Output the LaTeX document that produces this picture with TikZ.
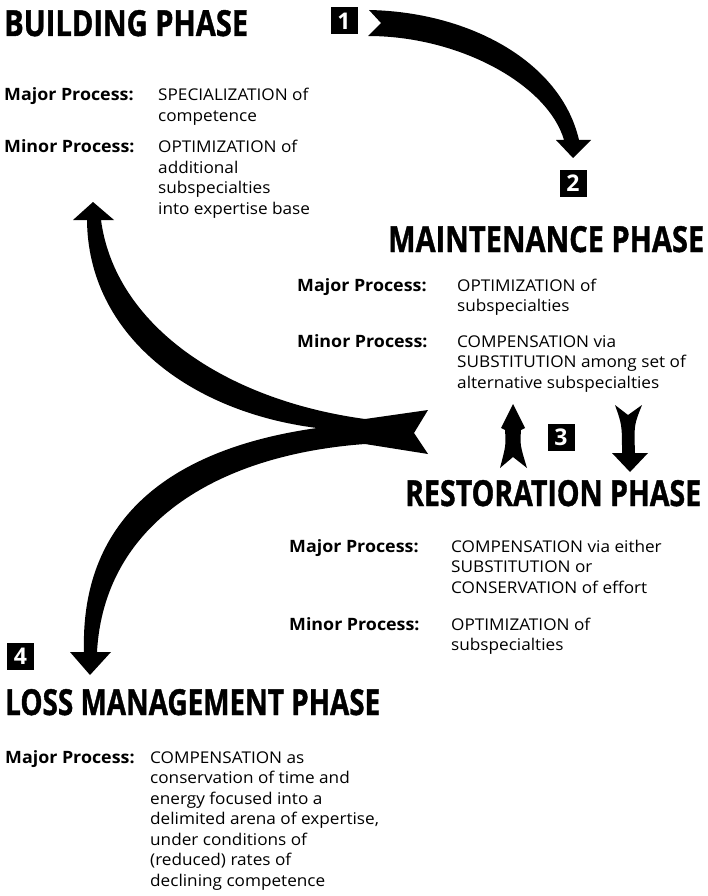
\documentclass[tikz,border=0pt]{standalone}
\usepackage{fontspec}
\usepackage{graphicx}
\setmainfont{Open Sans}
\newfontfamily\labelfont{Open Sans}[FakeStretch=1.05]
\newfontfamily\bodyfont{Open Sans}[FakeStretch=1.06]
\newfontfamily\headfont{Open Sans}[FakeBold=1.2]
\newcommand{\txtlines}[1]{\parbox[t]{300pt}{\raggedright #1}}
\begin{document}
\begin{tikzpicture}[x=1pt,y=-1pt,
  heading/.style={anchor=base west, inner sep=0pt},
  proclabel/.style={anchor=base west, inner sep=0pt, font=\labelfont\bfseries\fontsize{17}{20.5}\selectfont},
  proctext/.style={anchor=base west, inner sep=0pt, font=\bodyfont\fontsize{16.2}{20.5}\selectfont},
  numbox/.style={fill=black, text=white, minimum width=27pt, minimum height=27pt, inner sep=0pt, font=\bfseries\fontsize{23}{23}\selectfont},
  shapearrow/.style={fill=black}]

\fill[white] (0,0) rectangle (708,896);
\useasboundingbox (0,0) rectangle (708,896);

% phase headings
\node[heading] (build) at (4,36) {\resizebox{244pt}{26pt}{\headfont\bfseries BUILDING PHASE}};
\node[heading] (maint) at (388,252) {\resizebox{316pt}{26pt}{\headfont\bfseries MAINTENANCE PHASE}};
\node[heading] (resto) at (405,506) {\resizebox{296pt}{26pt}{\headfont\bfseries RESTORATION PHASE}};
\node[heading] (loss) at (5,715) {\resizebox{375pt}{26pt}{\headfont\bfseries LOSS MANAGEMENT PHASE}};

% building phase processes
\node[proclabel] (bmajl) at (4,101) {Major Process:};
\node[proctext] (bmajt) at (158,101) {\txtlines{SPECIALIZATION of\\competence}};
\node[proclabel] (bminl) at (4,153) {Minor Process:};
\node[proctext] (bmint) at (158,153) {\txtlines{OPTIMIZATION of\\additional\\subspecialties\\into expertise base}};

% maintenance phase processes
\node[proclabel] (mmajl) at (297,291) {Major Process:};
\node[proctext] (mmajt) at (457,291) {\txtlines{OPTIMIZATION of\\subspecialties}};
\node[proclabel] (mminl) at (297,347) {Minor Process:};
\node[proctext] (mmint) at (457,347) {\txtlines{COMPENSATION via\\SUBSTITUTION among set of\\alternative subspecialties}};

% restoration phase processes
\node[proclabel] (rmajl) at (289,552) {Major Process:};
\node[proctext] (rmajt) at (451,552) {\txtlines{COMPENSATION via either\\SUBSTITUTION or\\CONSERVATION of effort}};
\node[proclabel] (rminl) at (289,630) {Minor Process:};
\node[proctext] (rmint) at (451,630) {\txtlines{OPTIMIZATION of\\subspecialties}};

% loss management phase process
\node[proclabel] (lmajl) at (5,763) {Major Process:};
\node[proctext] (lmajt) at (150,763) {\txtlines{COMPENSATION as\\conservation of time and\\energy focused into a\\delimited arena of expertise,\\under conditions of\\(reduced) rates of\\declining competence}};

% numbered markers
\node[numbox] (n1) at (344,21) {1};
\node[numbox] (n2) at (573,183.5) {2};
\node[numbox] (n3) at (561,437) {3};
\node[numbox] (n4) at (20.5,656.5) {4};

% arrow 1 -> 2
\fill[shapearrow] (369,10) .. controls (470,12) and (561,62) .. (579,140)
  -- (591,140) -- (573,158) -- (556,140) -- (564,140)
  .. controls (548,85) and (460,36) .. (368,36) -- (381,23) -- cycle;

% forked arrow: back to building, down to loss management
\fill[shapearrow] (93,202) -- (114,220) -- (101,220)
  .. controls (115,325) and (225,400) .. (365,419)
  -- (428,410) -- (414,433) -- (428,454) -- (365,444)
  .. controls (215,455) and (104,525) .. (97,652)
  -- (111,652) -- (90,675) -- (70,652) -- (84,652)
  .. controls (80,515) and (175,448) .. (317,428)
  .. controls (190,412) and (88,335) .. (87,220)
  -- (73,220) -- cycle;

% arrows between maintenance and restoration
\fill[shapearrow] (513,404) -- (525,428) -- (521,430)
  .. controls (520,445) .. (527,468) -- (513,457) -- (500,468)
  .. controls (506,445) .. (505,430) -- (501,428) -- cycle;
\fill[shapearrow] (615,405) -- (628,415) -- (642,405)
  .. controls (634,425) .. (635,453) -- (648,453) -- (630,472)
  -- (612,453) -- (622,453) .. controls (622,425) .. (615,405) -- cycle;
\end{tikzpicture}
\end{document}
